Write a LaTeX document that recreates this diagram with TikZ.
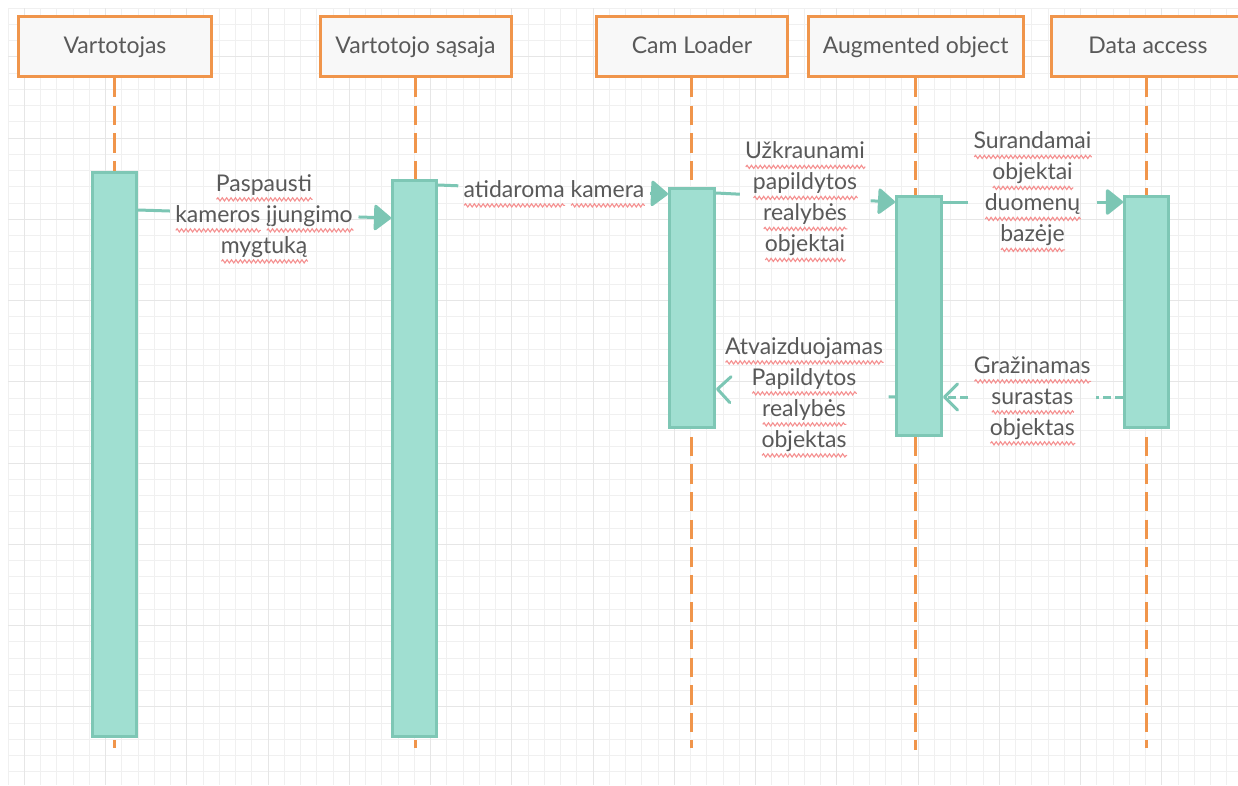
\documentclass[tikz,border=0pt]{standalone}
\usepackage{fontspec}
\setmainfont{Lato}
\usetikzlibrary{arrows.meta,calc,decorations.pathmorphing}

\definecolor{gridminor}{HTML}{F0F0F0}
\definecolor{gridmajor}{HTML}{E6E6E6}
\definecolor{headorange}{HTML}{F0954B}
\definecolor{headfill}{HTML}{F8F8F8}
\definecolor{barfill}{HTML}{A0DFD1}
\definecolor{barline}{HTML}{7EC7B5}
\definecolor{msgline}{HTML}{7CC6B4}
\definecolor{inkgray}{HTML}{595959}
\definecolor{spellred}{HTML}{F59090}

% wavy spell-check underline under a single word
\newsavebox\wvbox
\newcommand\wv[1]{\sbox\wvbox{#1}\leavevmode\rlap{\tikz[baseline=0pt,x=1pt,y=1pt]
  \draw[spellred,line width=1.1pt,decorate,decoration={snake,amplitude=1.6pt,segment length=4.4pt}]
  (0,-8) -- (\the\wd\wvbox,-8);}\usebox\wvbox}

\begin{document}
\begin{tikzpicture}[x=1pt,y=-1pt,
  head/.style={draw=headorange, fill=headfill, line width=3pt, minimum height=60pt,
    inner sep=0pt, text height=18pt, text depth=4.4pt, text=inkgray,
    font=\fontsize{23}{27}\selectfont},
  life/.style={draw=headorange, line width=3pt, dash pattern=on 19.3pt off 8.3pt},
  bar/.style={draw=barline, fill=barfill, line width=3pt, inner sep=0pt},
  conn/.style={draw=msgline, line width=3pt},
  call/.style={conn, -{Triangle[length=18pt,width=28pt,round]}},
  reply/.style={conn, dash pattern=on 8pt off 4pt, -{Straight Barb[length=13pt,width=26pt,round]}},
  replyline/.style={conn, dash pattern=on 8pt off 4pt},
  lbl/.style={text=inkgray, align=center, inner xsep=5.5pt, inner ysep=1pt,
    font=\fontsize{23}{31}\selectfont}]

\fill[white] (0,0) rectangle (1238,785);
\useasboundingbox (0,0) rectangle (1238,785);

% background grid
\foreach \i in {0,...,75}
  \draw[gridminor, line width=1pt] ({8+16.25*\i},8) -- ({8+16.25*\i},785);
\foreach \j in {0,...,47}
  \draw[gridminor, line width=1pt] (8,{8+16.25*\j}) -- (1238,{8+16.25*\j});
\foreach \i in {1,6,...,71}
  \draw[gridmajor, line width=1pt] ({8+16.25*\i},8) -- ({8+16.25*\i},785);
\foreach \j in {3,8,...,43}
  \draw[gridmajor, line width=1pt] (8,{8+16.25*\j}) -- (1238,{8+16.25*\j});

% participants
\node[head, minimum width=193pt] (h1) at (115,46.5) {Vartotojas};
\node[head, minimum width=191pt] (h2) at (415.5,46.5) {Vartotojo sąsaja};
\node[head, minimum width=191pt] (h3) at (692,46.5) {Cam Loader};
\node[head, minimum width=215pt] (h4) at (915.7,46.5) {Augmented object};
\node[head, minimum width=193pt] (h5) at (1148,46.5) {Data access};

% lifeline ends
\coordinate (e1) at (114.3,748);
\coordinate (e2) at (415,748);
\coordinate (e3) at (691.2,748);
\coordinate (e4) at (915.7,750);
\coordinate (e5) at (1146.7,748);

\draw[life] (h1.south -| e1) -- (e1);
\draw[life] (h2.south -| e2) -- (e2);
\draw[life] (h3.south -| e3) -- (e3);
\draw[life] (h4.south -| e4) -- (e4);
\draw[life] (h5.south -| e5) -- (e5);

% activation bars
\node[bar, minimum width=44pt, minimum height=564pt] (b1) at (114.5,454.5) {};
\node[bar, minimum width=44pt, minimum height=556pt] (b2) at (414.5,458.5) {};
\node[bar, minimum width=45pt, minimum height=239pt] (b3) at (692,308) {};
\node[bar, minimum width=45pt, minimum height=239pt] (b4) at (919,316) {};
\node[bar, minimum width=44pt, minimum height=231pt] (b5) at (1146.5,312) {};

% message labels
\node[lbl] (t1) at (264,219) {\wv{Paspausti}\\\wv{kameros} \wv{įjungimo}\\\wv{mygtuką}};
\node[lbl] (t2) at (554,194) {\wv{atidaroma} \wv{kamera}};
\node[lbl] (t3) at (805,202) {\wv{Užkraunami}\\\wv{papildytos}\\\wv{realybės}\\\wv{objektai}};
\node[lbl] (t4) at (1032.5,192) {\wv{Surandamai}\\\wv{objektai}\\\wv{duomenų}\\\wv{bazėje}};
\node[lbl] (t5) at (1032.3,401) {\wv{Gražinamas}\\\wv{surastas}\\\wv{objektas}};
\node[lbl] (t6) at (804,397.5) {\wv{Atvaizduojamas}\\\wv{Papildytos}\\\wv{realybės}\\\wv{objektas}};

% message end points on the activation bars
\coordinate (m1a) at ($(b1.north east)+(0,39)$);
\coordinate (m1b) at ($(b2.north west)+(0,39)$);
\coordinate (m2a) at ($(b2.north east)+(0,6)$);
\coordinate (m2b) at ($(b3.north west)+(0,7)$);
\coordinate (m3a) at ($(b3.north east)+(0,6)$);
\coordinate (m3b) at ($(b4.north west)+(0,7)$);
\coordinate (m4a) at ($(b4.north east)+(0,7)$);
\coordinate (m4b) at ($(b5.north west)+(0,7)$);
\coordinate (m5a) at ($(b5.north west)+(0,202)$);
\coordinate (m5b) at ($(b4.north east)+(0,202)$);
\coordinate (m6a) at ($(b4.north west)+(0,202)$);
\coordinate (m6b) at ($(b3.north east)+(0,202)$);

% calls: each line stops short of its label and resumes after it
\draw[conn] (m1a) -- ($(m1a)!(t1.west)!(m1b)$);
\draw[call] ($(m1a)!(t1.east)!(m1b)$) -- (m1b);
\draw[conn] (m2a) -- ($(m2a)!(t2.west)!(m2b)$);
\draw[call] ($(m2a)!(t2.east)!(m2b)$) -- (m2b);
\draw[conn] (m3a) -- ($(m3a)!(t3.west)!(m3b)$);
\draw[call] ($(m3a)!(t3.east)!(m3b)$) -- (m3b);
\draw[conn] (m4a) -- ($(m4a)!(t4.west)!(m4b)$);
\draw[call] ($(m4a)!(t4.east)!(m4b)$) -- (m4b);

% replies
\draw[replyline] (m5a) -- ($(m5a)!(t5.east)!(m5b)$);
\draw[reply] ($(m5a)!(t5.west)!(m5b)$) -- (m5b);
\draw[replyline] (m6a) -- ($(m6a)!(t6.east)!(m6b)$);
\draw[reply] ($(m6a)!(t6.west)!(m6b)$) -- (m6b);
\end{tikzpicture}
\end{document}
